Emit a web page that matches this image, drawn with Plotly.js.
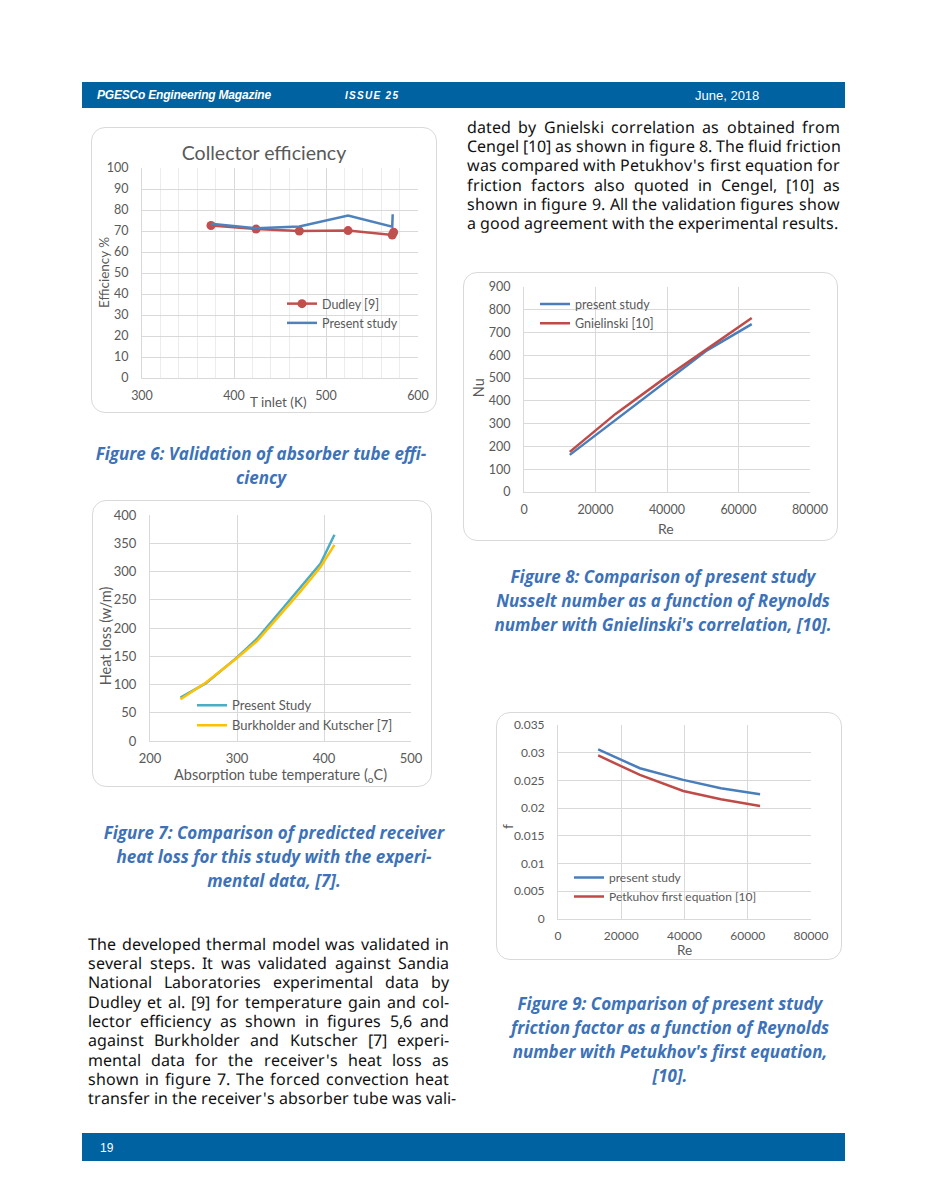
<!DOCTYPE html>
<html>
<head>
<meta charset="utf-8">
<script src="https://cdn.plot.ly/plotly-3.0.1.min.js"></script>
<style>
  @font-face {
    font-family: "BodySans";
    src: local("Noto Sans Regular"), local("NotoSans-Regular"), local("Noto Sans");
    ascent-override: 92%; descent-override: 26%; line-gap-override: 0%;
  }
  html, body { margin:0; padding:0; background:#ffffff; }
  body { width:927px; height:1200px; position:relative; overflow:hidden; }
  .bar { position:absolute; left:82px; width:763px; background:#0062a0; }
  .htxt { position:absolute; color:#ffffff; font-family:"Liberation Sans", Arial, sans-serif; white-space:nowrap; line-height:14px; }
  .box { position:absolute; border:1px solid #d9d9d9; border-radius:14px; box-sizing:border-box; background:#fff; }
  .plot { position:absolute; }
  .line { position:absolute; font-family:"BodySans", "Noto Sans", "DejaVu Sans", sans-serif; font-size:16px; color:#111; line-height:19px; height:19px; white-space:nowrap; text-align:justify; text-align-last:justify; }
  .line.last { text-align-last:left; }
  .cap { position:absolute; font-family:"Open Sans", "Noto Sans", sans-serif; font-weight:700; font-style:italic; font-size:17px; color:#3d72b8; line-height:23px; height:23px; white-space:nowrap; text-align:center; width:440px; }
</style>
</head>
<body>
<div class="bar" style="top:82px;height:26px;"></div>
<div class="htxt" style="left:97px;top:88px;font-size:12px;font-weight:700;font-style:italic;letter-spacing:-0.2px;">PGESCo Engineering Magazine</div>
<div class="htxt" style="left:345px;top:89px;font-size:10px;font-weight:700;font-style:italic;letter-spacing:1.3px;">ISSUE 25</div>
<div class="htxt" style="left:695px;top:89px;font-size:13px;">June, 2018</div>
<div class="bar" style="top:1133px;height:28px;"></div>
<div class="htxt" style="left:100px;top:1141px;font-size:12px;">19</div>

<div class="box" style="left:91px;top:127px;width:346px;height:286px;"></div>
<div class="box" style="left:92px;top:500px;width:340px;height:287px;"></div>
<div class="box" style="left:463px;top:272px;width:375px;height:269px;"></div>
<div class="box" style="left:496px;top:712px;width:346px;height:248px;"></div>

<div id="c1" class="plot"></div>
<div id="c2" class="plot"></div>
<div id="c3" class="plot"></div>
<div id="c4" class="plot"></div>

<div id="textlayer"></div>

<script>
// ---------- DATA ----------
// Figure 6: Collector efficiency
const effTempDudley = [375, 424, 471, 524, 572, 573.5];
const effDudley     = [72.6, 70.9, 70.0, 70.2, 68.1, 69.4];
const effTempPresent = [375, 424, 471, 524, 572, 572.5];
const effPresent     = [73.4, 71.3, 72.1, 77.4, 72.1, 78.0];

// Figure 7: Heat loss vs absorber tube temperature
const tubeTemp       = [235, 264, 300, 323, 350, 372, 396, 412];
const heatLossPresent = [77, 102, 148, 181, 230, 270, 314, 365];
const heatLossBurk    = [74, 103, 147, 177, 224, 263, 308, 347];

// Figure 8: Nusselt number vs Reynolds
const reNu       = [12800, 25600, 38400, 51200, 63700];
const nuPresent  = [163, 316, 472, 622, 737];
const nuGniel    = [176, 343, 489, 627, 764];

// Figure 9: friction factor vs Reynolds
const reF        = [12700, 25900, 39600, 51500, 63900];
const fPresent   = [0.0306, 0.0272, 0.0251, 0.0236, 0.0225];
const fPetukhov  = [0.0295, 0.0260, 0.0231, 0.0216, 0.0204];

// ---------- helpers ----------
const GREY = '#595959';
const GRID = '#d9d9d9';
const FONT = 'Lato, "Open Sans", sans-serif';

function setup(id, box, area) {
  const el = document.getElementById(id);
  el.style.left = box.l + 'px'; el.style.top = box.t + 'px';
  el.style.width = (box.r - box.l) + 'px'; el.style.height = (box.b - box.t) + 'px';
  return {
    margin: {l: area.x0 - box.l, r: box.r - area.x1, t: area.y0 - box.t, b: box.b - area.y1, pad: 0},
    px: (X) => (X - area.x0) / (area.x1 - area.x0),
    py: (Y) => (area.y1 - Y) / (area.y1 - area.y0),
    w: box.r - box.l, h: box.b - box.t
  };
}
function axis(range, dtick, size, extra) {
  return Object.assign({
    range: range, dtick: dtick, tick0: range[0], showgrid: true, gridcolor: GRID, gridwidth: 1,
    zeroline: false, showline: true, linecolor: GRID, linewidth: 1, ticks: '',
    tickfont: {family: FONT, size: size, color: GREY}, fixedrange: true, mirror: false
  }, extra || {});
}
function ann(g, text, X, Y, size, rot) {
  return {text: text, x: g.px(X), y: g.py(Y), xref: 'paper', yref: 'paper', showarrow: false,
          xanchor: 'center', yanchor: 'middle', textangle: rot || 0,
          font: {family: FONT, size: size, color: GREY}};
}
function legend(g, X, Y, size) {
  return {x: g.px(X), y: g.py(Y), xanchor: 'left', yanchor: 'top', bgcolor: 'rgba(0,0,0,0)',
          font: {family: FONT, size: size, color: GREY}, tracegroupgap: 0, itemwidth: 30, borderwidth: 0};
}
const cfg = {staticPlot: true, displayModeBar: false};

// ---------- Chart 1 ----------
(function(){
  const g = setup('c1', {l:91, t:127, r:437, b:413}, {x0:142, x1:418, y0:168, y1:378});
  const data = [
    {x: effTempDudley, y: effDudley, name: 'Dudley [9]', mode: 'lines+markers', type: 'scatter',
     line: {color: '#c0504d', width: 2.5}, marker: {color: '#c0504d', size: 9}},
    {x: effTempPresent, y: effPresent, name: 'Present study', mode: 'lines', type: 'scatter',
     line: {color: '#4f81bd', width: 2.5}}
  ];
  const layout = {
    width: g.w, height: g.h, margin: g.margin, paper_bgcolor: 'rgba(0,0,0,0)', plot_bgcolor: 'rgba(0,0,0,0)',
    title: {text: 'Collector efficiency', font: {family: FONT, size: 19.5, color: GREY},
            xref: 'container', x: 0.5, xanchor: 'center', yref: 'container', y: 1 - 26/286, yanchor: 'middle'},
    xaxis: axis([300, 600], 100, 12.5, {ticklabelstandoff: 6, minor: {dtick: 20, showgrid: true, gridcolor: '#ececec', gridwidth: 1}}),
    yaxis: axis([0, 100], 10, 12.5, {ticklabelstandoff: 10}),
    showlegend: true, legend: legend(g, 282, 289, 12.5),
    annotations: [ann(g, 'Efficiency %', 104, 273, 13.5, -90), ann(g, 'T inlet (K)', 278, 402, 13.5)]
  };
  Plotly.newPlot('c1', data, layout, cfg);
})();

// ---------- Chart 2 ----------
(function(){
  const g = setup('c2', {l:92, t:500, r:432, b:787}, {x0:150, x1:411, y0:514.7, y1:740.7});
  const data = [
    {x: tubeTemp, y: heatLossPresent, name: 'Present Study', mode: 'lines', type: 'scatter',
     line: {color: '#4bacc6', width: 2.5}},
    {x: tubeTemp, y: heatLossBurk, name: 'Burkholder and Kutscher [7]', mode: 'lines', type: 'scatter',
     line: {color: '#ffc000', width: 2.5}}
  ];
  const layout = {
    width: g.w, height: g.h, margin: g.margin, paper_bgcolor: 'rgba(0,0,0,0)', plot_bgcolor: 'rgba(0,0,0,0)',
    xaxis: axis([200, 500], 100, 13, {ticklabelstandoff: 5}),
    yaxis: axis([0, 400], 50, 13, {ticklabelstandoff: 10}),
    showlegend: true, legend: legend(g, 192, 690, 13),
    annotations: [ann(g, 'Heat loss (w/m)', 105, 636, 14.5, -90),
                  ann(g, 'Absorption tube temperature (<sub>o</sub>C)', 280, 775, 14.5)]
  };
  Plotly.newPlot('c2', data, layout, cfg);
})();

// ---------- Chart 3 ----------
(function(){
  const g = setup('c3', {l:463, t:272, r:838, b:541}, {x0:524, x1:810, y0:286.7, y1:491.7});
  const data = [
    {x: reNu, y: nuPresent, name: 'present study', mode: 'lines', type: 'scatter',
     line: {color: '#4a7ebb', width: 2.5}},
    {x: reNu, y: nuGniel, name: 'Gnielinski [10]', mode: 'lines', type: 'scatter',
     line: {color: '#be4b48', width: 2.5}}
  ];
  const layout = {
    width: g.w, height: g.h, margin: g.margin, paper_bgcolor: 'rgba(0,0,0,0)', plot_bgcolor: 'rgba(0,0,0,0)',
    xaxis: axis([0, 80000], 20000, 12.5, {ticklabelstandoff: 6, tickformat: 'd'}),
    yaxis: axis([0, 900], 100, 12.5, {ticklabelstandoff: 10}),
    showlegend: true, legend: legend(g, 535, 289, 12.5),
    annotations: [ann(g, 'Nu', 478, 388, 14.5, -90), ann(g, 'Re', 666, 528, 14)]
  };
  Plotly.newPlot('c3', data, layout, cfg);
})();

// ---------- Chart 4 ----------
(function(){
  const g = setup('c4', {l:496, t:712, r:842, b:960}, {x0:558, x1:811, y0:725, y1:919});
  const data = [
    {x: reF, y: fPresent, name: 'present study', mode: 'lines', type: 'scatter',
     line: {color: '#4a7ebb', width: 2.5}},
    {x: reF, y: fPetukhov, name: 'Petkuhov first equation [10]', mode: 'lines', type: 'scatter',
     line: {color: '#be4b48', width: 2.5}}
  ];
  const layout = {
    width: g.w, height: g.h, margin: g.margin, paper_bgcolor: 'rgba(0,0,0,0)', plot_bgcolor: 'rgba(0,0,0,0)',
    xaxis: axis([0, 80000], 20000, 12, {ticklabelstandoff: 6, tickformat: 'd'}),
    yaxis: axis([0, 0.035], 0.005, 12, {ticklabelstandoff: 10, tickformat: ''}),
    showlegend: true, legend: legend(g, 569, 863, 12),
    annotations: [ann(g, 'f', 507, 827, 14, -90), ann(g, 'Re', 684, 950, 13.5)]
  };
  Plotly.newPlot('c4', data, layout, cfg);
})();

// ---------- Text ----------
const rightLines = [
  "dated by Gnielski correlation as obtained from",
  "Cengel [10] as shown in figure 8. The fluid friction",
  "was compared with Petukhov's first equation for",
  "friction factors also quoted in Cengel, [10] as",
  "shown in figure 9. All the validation figures show",
  "a good agreement with the experimental results."
];
const leftLines = [
  "The developed thermal model was validated in",
  "several steps. It was validated against Sandia",
  "National Laboratories experimental data by",
  "Dudley et al. [9] for temperature gain and col-",
  "lector efficiency as shown in figures 5,6 and",
  "against Burkholder and Kutscher [7] experi-",
  "mental data for the receiver's heat loss as",
  "shown in figure 7. The forced convection heat",
  "transfer in the receiver's absorber tube was vali-"
];
const captions = [
  {cx: 261, y: [453, 477], lines: ["Figure 6: Validation of absorber tube effi-", "ciency"]},
  {cx: 274, y: [832, 856, 880], lines: ["Figure 7: Comparison of predicted receiver", "heat loss for this study with the experi-", "mental data, [7]."]},
  {cx: 663, y: [576, 600, 624], lines: ["Figure 8: Comparison of present study", "Nusselt number as a function of Reynolds", "number with Gnielinski's correlation, [10]."]},
  {cx: 670, y: [1003, 1027, 1051, 1075], lines: ["Figure 9: Comparison of present study", "friction factor as a function of Reynolds", "number with Petukhov's first equation,", "[10]."]}
];
const layer = document.getElementById('textlayer');
function addLines(lines, left, width, y0, step, lastLeft) {
  lines.forEach((t, i) => {
    const d = document.createElement('div');
    d.className = 'line' + (lastLeft && i === lines.length - 1 ? ' last' : '');
    d.style.left = left + 'px'; d.style.width = width + 'px';
    d.style.top = (y0 + i * step - 9.5) + 'px';
    d.textContent = t;
    layer.appendChild(d);
  });
}
addLines(rightLines, 467, 373, 127, 19.35, true);
addLines(leftLines, 88, 361, 944, 19.35, false);
captions.forEach(c => {
  c.lines.forEach((t, i) => {
    const d = document.createElement('div');
    d.className = 'cap';
    d.style.left = (c.cx - 220) + 'px';
    d.style.top = (c.y[i] - 11.5) + 'px';
    d.textContent = t;
    layer.appendChild(d);
  });
});
</script>
</body>
</html>
